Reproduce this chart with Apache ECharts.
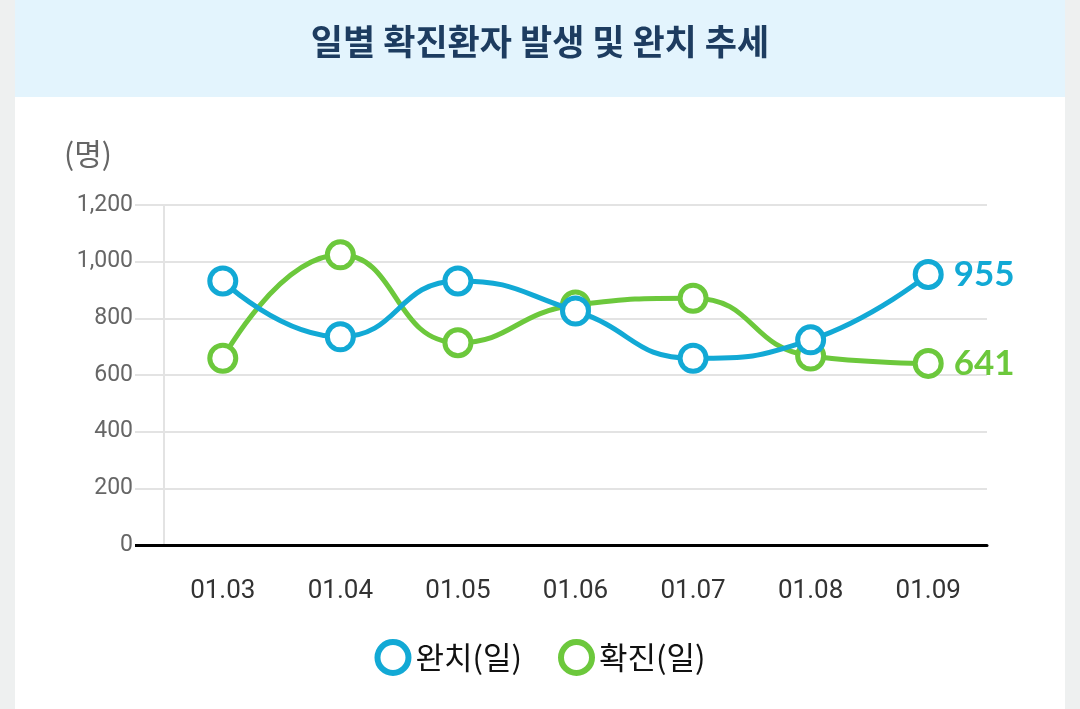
<!DOCTYPE html>
<html>
<head>
<meta charset="utf-8">
<script src="https://cdn.jsdelivr.net/npm/echarts@6/dist/echarts.min.js"></script>
<style>
  html, body { margin: 0; padding: 0; background: #eef0f0; }
  #wrap { position: relative; width: 1080px; height: 709px; overflow: hidden; }
  #panel { position: absolute; left: 15px; top: 0; width: 1050px; height: 709px; background: #fff; }
  #band { position: absolute; left: 0; top: 0; width: 1050px; height: 97px; background: #e3f4fd; }
  #chart { position: absolute; left: 0; top: 0; width: 1080px; height: 709px; }
</style>
</head>
<body>
<div id="wrap">
  <div id="panel"><div id="band"></div></div>
  <div id="chart"></div>
</div>
<script>
var dates = ['01.03', '01.04', '01.05', '01.06', '01.07', '01.08', '01.09']
var recovered = [932, 735, 932, 826, 659, 724, 955]
var confirmed = [659, 1024, 714, 847, 871, 667, 641]
var yTicks = [0, 200, 400, 600, 800, 1000, 1200]

var blue = '#12a9d5'
var green = '#6cc83c'
var cjk = '"Noto Sans CJK KR", sans-serif'

var chart = echarts.init(document.getElementById('chart'))

// only the last point gets a value label
function lastLabel(color) {
  return {
    show: true,
    position: 'right',
    distance: 10,
    color: color,
    fontFamily: 'Lato, sans-serif',
    fontWeight: 'bold',
    fontSize: 35,
    formatter: function (p) {
      return p.dataIndex == dates.length - 1 ? p.value : ''
    }
  }
}

var option = {
  animation: false,
  title: {
    text: '일별 확진환자 발생 및 완치 추세',
    left: 'center',
    top: 19,
    textStyle: {
      fontFamily: cjk,
      fontWeight: 'bold',
      fontSize: 35,
      color: '#1d3c60'
    }
  },
  legend: {
    bottom: 28,
    left: 'center',
    itemWidth: 31,
    itemHeight: 31,
    itemGap: 36,
    icon: 'circle',
    textStyle: {
      fontFamily: cjk,
      fontSize: 31,
      color: '#111',
      padding: [0, 0, 0, 2]
    },
    data: [
      { name: '완치(일)', itemStyle: { color: '#fff', borderColor: blue, borderWidth: 6 } },
      { name: '확진(일)', itemStyle: { color: '#fff', borderColor: green, borderWidth: 6 } }
    ]
  },
  grid: { left: 164, right: 93, top: 205, bottom: 164 },
  xAxis: {
    type: 'category',
    data: dates,
    boundaryGap: true,
    axisLine: { lineStyle: { color: '#000', width: 3 } },
    axisTick: { show: false },
    axisLabel: {
      margin: 33,
      fontFamily: 'Roboto, sans-serif',
      fontSize: 26,
      color: '#333'
    }
  },
  yAxis: [{
    type: 'value',
    min: 0,
    max: 1200,
    interval: 200,
    name: '(명)',
    nameLocation: 'end',
    nameGap: 36,
    nameTextStyle: {
      fontFamily: cjk,
      fontSize: 30,
      color: '#666',
      align: 'right',
      padding: [0, 52, 0, 0]
    },
    axisLine: { show: true, lineStyle: { color: '#e3e3e3', width: 2 } },
    axisTick: {
      show: true,
      length: 29,
      lineStyle: { color: '#e3e3e3', width: 2 },
      customValues: [200, 400, 600, 800, 1000, 1200]
    },
    splitLine: { lineStyle: { color: '#e3e3e3', width: 2 } },
    axisLabel: {
      margin: 31,
      fontFamily: 'Roboto, sans-serif',
      fontSize: 23,
      color: '#666',
      customValues: yTicks,
      formatter: function (v) { return v.toLocaleString('en-US') }
    }
  }, {
    type: 'value',
    position: 'left',
    min: 0,
    max: 1200,
    interval: 200,
    axisLine: { show: false },
    splitLine: { show: false },
    axisLabel: { show: false },
    axisTick: {
      show: true,
      length: 29,
      lineStyle: { color: '#000', width: 3 },
      customValues: [0]
    }
  }],
  series: [{
    name: '완치(일)',
    type: 'line',
    data: recovered,
    smooth: 0.5,
    z: 4,
    symbol: 'circle',
    symbolSize: 26,
    itemStyle: { color: '#fff', borderColor: blue, borderWidth: 5 },
    lineStyle: { color: blue, width: 5 },
    label: lastLabel(blue)
  }, {
    name: '확진(일)',
    type: 'line',
    data: confirmed,
    smooth: 0.5,
    z: 3,
    symbol: 'circle',
    symbolSize: 26,
    itemStyle: { color: '#fff', borderColor: green, borderWidth: 5 },
    lineStyle: { color: green, width: 5 },
    label: lastLabel(green)
  }]
}

chart.setOption(option)
</script>
</body>
</html>
